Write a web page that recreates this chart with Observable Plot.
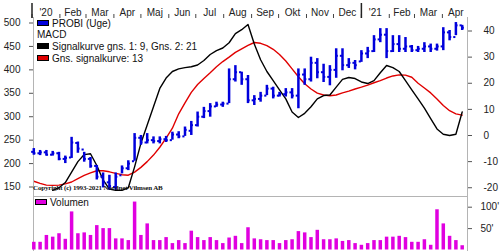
<!DOCTYPE html>
<html><head><meta charset="utf-8">
<script src="https://cdn.jsdelivr.net/npm/d3@7"></script>
<script src="https://cdn.jsdelivr.net/npm/@observablehq/plot@0.6"></script>
<style>
html,body{margin:0;padding:0;background:#fff;}
#wrap{position:relative;width:500px;height:251px;overflow:hidden;font-family:"Liberation Sans",Arial,sans-serif;}
#wrap svg{position:absolute;left:0;}
.leg{position:absolute;font-size:10px;color:#111;white-space:nowrap;line-height:12px;}
.sw{display:inline-block;width:10px;height:4px;border:1px solid #000;vertical-align:1px;margin-right:3px;}
.copy{position:absolute;left:33px;top:184px;font-family:"Liberation Serif",serif;font-size:7px;font-weight:bold;color:#111;white-space:nowrap;letter-spacing:-0.15px;}
</style></head><body><div id="wrap"></div>
<script>
// weekly bars (Fridays)
const weeks = d3.utcFriday.range(new Date("2020-01-03"), new Date("2021-04-24"));
const high  = [232,228,228,226,224,216,256,246,224,213,196,180,175,180,195,206,264,260,264,257,257,258,267,268,278,290,310,320,328,331,331,402,409,395,388,345,352,367,363,352,360,360,402,402,427,424,412,409,445,445,424,420,441,448,473,488,488,473,473,469,452,450,458,455,455,490,484,501,495];
const low   = [218,217,216,216,206,200,211,222,203,190,165,148,143,143,178,185,205,239,242,242,242,245,250,253,258,260,278,296,299,320,320,328,374,367,328,324,331,345,338,342,342,338,317,367,374,381,373,366,382,398,403,400,416,424,437,458,424,437,437,437,437,437,437,437,440,441,462,473,484];
const open  = [225,222,224,219,222,210,213,244,230,210,195,172,160,150,175,190,205,255,245,250,248,252,250,262,258,270,282,300,312,322,326,328,380,395,380,335,338,345,360,345,348,352,345,390,380,415,395,385,400,430,410,415,418,435,440,465,475,440,455,445,450,442,445,450,445,450,480,470,495];
const close = [222,224,219,222,210,212,245,232,210,195,172,160,152,172,190,200,255,245,250,248,252,250,262,258,272,282,300,312,322,326,328,380,395,380,335,338,345,360,345,348,352,345,390,380,415,395,385,400,430,410,415,410,435,440,465,475,440,455,445,450,442,445,450,445,450,480,470,495,490];
const volume = [18,18,34,30,38,25,89,38,40,34,57,50,50,26,26,22,112,34,61,22,22,29,15,22,15,44,29,22,29,22,15,28,32,15,52,26,24,22,22,15,22,24,43,40,29,46,24,24,26,20,22,15,11,15,22,22,30,30,32,29,18,18,24,11,94,61,32,22,10];
const macd   = [null,null,null,-21,-20,-18,-14,-10,-7.3,-7,-11.5,-17,-20.5,-21,-21,-20,-12,-3,4,11,18,22,24.5,25.5,26,26.3,27,28.7,31,32.5,33.5,35.5,39,40.5,42.5,35,29,24.5,21,17.5,14,9,6.9,8.5,11,14,15.3,15.5,18.5,21.5,22.2,21.8,20.5,19.9,21,24,26.8,26,24.5,21,17.5,14,10.5,6.5,2.5,0.5,0,0.5,9];
const signal = [-17.5,-18.3,-19,-19.1,-19,-18.5,-17.8,-16.5,-15.3,-14.3,-13.5,-13.5,-13.9,-14.5,-15,-15.2,-14,-12.2,-10,-7.5,-4.5,-1,2.8,8.3,12.5,16.5,19.5,21.8,24,26.3,28.3,30,31.8,33.2,34.5,35.6,35.3,34.4,33,31,28.5,25.5,22.5,19.8,17.8,16.2,15.5,15.2,15.5,16.3,17,17.8,18.5,19.3,20.2,21,22,22.8,23.2,23.1,22.3,20,18.2,16.3,14,11.5,9.5,8.3,7.8];
const priceTicks = [150,200,250,300,350,400,450,500];
const macdTicks = [-20,-10,0,10,20,30,40];
const volTicks = [50,100];
const monthLabels = ["'20","Feb","Mar","Apr","Maj","Jun","Jul","Aug","Sep","Okt","Nov","Dec","'21","Feb","Mar","Apr"];

const monthStarts = d3.utcMonth.range(new Date("2020-01-01"), new Date("2021-05-01"));
const monthMids = monthStarts.map(d => new Date((+d + +d3.utcMonth.offset(d, 1)) / 2));
const yearStarts = [new Date("2020-01-01"), new Date("2021-01-01")];

const rows = weeks.map((d, i) => ({date: d, high: high[i], low: low[i], open: open[i], close: close[i], vol: volume[i], macd: macd[i], signal: signal[i]}));

const xDomain = [new Date("2020-01-02T16:00Z"), new Date("2021-04-28T21:36Z")];
const day = 864e5;
const blue = "#0000dc", magenta = "#e000e0", axisGray = "#b4b4b4";
const st = {background: "transparent", fontFamily: "Liberation Sans, Arial, sans-serif", fontSize: "10px", overflow: "visible"};
const common = {width: 500, marginLeft: 33, marginRight: 33};

const macdPlot = Plot.plot({
  ...common, height: 196, marginTop: 17, marginBottom: 0, style: st,
  x: {type: "utc", domain: xDomain, axis: null},
  y: {domain: [-23.35, 45.17]},
  marks: [
    Plot.axisY({anchor: "right", ticks: macdTicks, tickSize: 4, tickPadding: 12, tickFormat: d => String(d), label: null, stroke: "#555", fill: "#222"}),
    Plot.line(rows, {x: "date", y: "signal", stroke: "#e00000", strokeWidth: 1.4}),
    Plot.line(rows, {x: "date", y: "macd", stroke: "#000", strokeWidth: 1.4})
  ]
});

const pricePlot = Plot.plot({
  ...common, height: 196, marginTop: 17, marginBottom: 0, style: st,
  x: {type: "utc", domain: xDomain},
  y: {domain: [129.75, 511.74]},
  marks: [
    Plot.ruleX(xDomain, {stroke: axisGray}),
    Plot.axisY({anchor: "left", ticks: priceTicks, tickSize: 4, tickPadding: 9, tickFormat: d => String(d), label: null, stroke: "#555", fill: "#222"}),
    Plot.axisX({anchor: "top", ticks: monthStarts, tickSize: 4, tickFormat: () => "", label: null, stroke: "#444"}),
    Plot.axisX({anchor: "top", ticks: yearStarts, tickSize: 15, tickFormat: () => "", label: null, stroke: "#222", strokeWidth: 1.5}),
    Plot.text(monthMids, {x: d => d, text: (d, i) => monthLabels[i], frameAnchor: "top", dy: -9, fill: "#222"}),
    Plot.ruleX(rows, {x: "date", y1: "low", y2: "high", stroke: blue, strokeWidth: 2.5}),
    Plot.ruleY(rows, {y: "open", x1: d => new Date(+d.date - 2.4 * day), x2: "date", stroke: blue, strokeWidth: 2}),
    Plot.ruleY(rows, {y: "close", x1: "date", x2: d => new Date(+d.date + 2.4 * day), stroke: blue, strokeWidth: 2})
  ]
});

const volPlot = Plot.plot({
  ...common, height: 55, marginTop: 0, marginBottom: 0, style: st,
  x: {type: "utc", domain: xDomain, axis: null},
  y: {domain: [-3.5, 125]},
  marks: [
    Plot.ruleX(xDomain, {stroke: axisGray}),
    Plot.ruleY([125], {stroke: axisGray}),
    Plot.axisY({anchor: "right", ticks: volTicks, tickSize: 4, tickPadding: 9, tickFormat: d => d + "'", label: null, stroke: "#555", fill: "#222"}),
    Plot.ruleX(rows, {x: "date", y1: 0, y2: "vol", stroke: magenta, strokeWidth: 3.5})
  ]
});

const wrap = document.getElementById("wrap");
macdPlot.style.top = "0px";
pricePlot.style.top = "0px";
volPlot.style.top = "196px";
wrap.append(macdPlot, pricePlot, volPlot);

function leg(top, left, color, text) {
  const d = document.createElement("div");
  d.className = "leg";
  d.style.top = top + "px";
  d.style.left = left + "px";
  d.innerHTML = (color ? `<span class="sw" style="background:${color}"></span>` : "") + text;
  wrap.append(d);
}
leg(18, 37, blue, "PROBI (Uge)");
leg(29, 37, null, "MACD");
leg(41, 37, "#000", "Signalkurve gns. 1: 9, Gns. 2: 21");
leg(53, 37, "#e00000", "Gns. signalkurve: 13");
leg(197, 35, magenta, "Volumen");
const c = document.createElement("div");
c.className = "copy";
c.textContent = "Copyright (c) 1993-2021 Nordnet Vilmsen AB";
wrap.append(c);
</script></body></html>
